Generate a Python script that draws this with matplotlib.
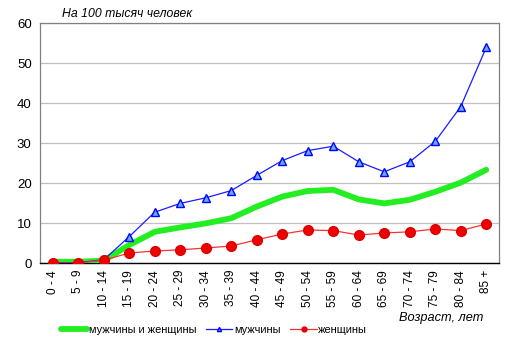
import matplotlib
matplotlib.use('Agg')
import matplotlib.pyplot as plt
import numpy as np

plt.rcParams['font.family'] = ['Liberation Sans', 'DejaVu Sans']

ages = ['0 - 4', '5 - 9', '10 - 14', '15 - 19', '20 - 24', '25 - 29', '30 - 34',
        '35 - 39', '40 - 44', '45 - 49', '50 - 54', '55 - 59', '60 - 64',
        '65 - 69', '70 - 74', '75 - 79', '80 - 84', '85 +']
both = [0.3, 0.3, 0.6, 4.5, 7.8, 8.9, 9.9, 11.2, 14.1, 16.6, 18.0, 18.3,
        15.9, 14.9, 15.8, 17.8, 20.1, 23.3]
men = [0.1, 0.1, 0.8, 6.6, 12.7, 14.9, 16.3, 18.1, 21.9, 25.6, 28.1, 29.2,
       25.3, 22.8, 25.3, 30.4, 39.1, 53.9]
women = [0.0, 0.0, 0.7, 2.5, 3.0, 3.3, 3.75, 4.25, 5.8, 7.25, 8.25, 8.1,
         7.0, 7.5, 7.8, 8.5, 8.1, 9.75]

fig = plt.figure(figsize=(5.15, 3.52), dpi=100)
ax = fig.add_axes([40/515, 1 - 263/352, 459/515, 240/352])
x = np.arange(len(ages))

ax.plot(x, both, color='#22ee22', lw=4.2, solid_joinstyle='round',
        solid_capstyle='round', label='мужчины и женщины', zorder=3)
ax.plot(x, men, color='#1a1aff', lw=0.9, marker='^', ms=6,
        mfc='#66aaff', mec='#0000ff', mew=1.0, label='мужчины', zorder=4)
ax.plot(x, women, color='#ff3030', lw=0.9, marker='o', ms=7,
        mfc='#ee0000', mec='#dd0000', label='женщины', zorder=5)

ax.set_xlim(-0.5, len(ages) - 0.5)
ax.set_ylim(0, 60)
ax.set_yticks(range(0, 61, 10))
ax.set_xticks(x)
ax.set_xticklabels(ages, rotation=90, fontsize=8.5)
ax.tick_params(axis='y', labelsize=9.5, length=0, pad=6)
ax.tick_params(axis='x', length=0, pad=5)
ax.grid(axis='y', color='#c0c0c0', lw=0.9)
ax.set_axisbelow(True)
for s in ['top', 'right', 'left']:
    ax.spines[s].set_color('#808080')
    ax.spines[s].set_linewidth(0.9)
ax.spines['bottom'].set_color('black')
ax.spines['bottom'].set_linewidth(1.0)

fig.text(62/515, 1 - 14/352, 'На 100 тысяч человек', fontsize=8.8,
         style='italic', va='center', ha='left')
fig.text(483/515, 1 - 318/352, 'Возраст, лет', fontsize=9.2,
         style='italic', va='center', ha='right')

fig.legend(loc='center', bbox_to_anchor=(214/515, 1 - 330/352), ncol=3,
           frameon=False, fontsize=7.9, handlelength=2.4, handletextpad=0.15,
           columnspacing=0.9, markerscale=0.5)

fig.savefig('out.png', dpi=100)
